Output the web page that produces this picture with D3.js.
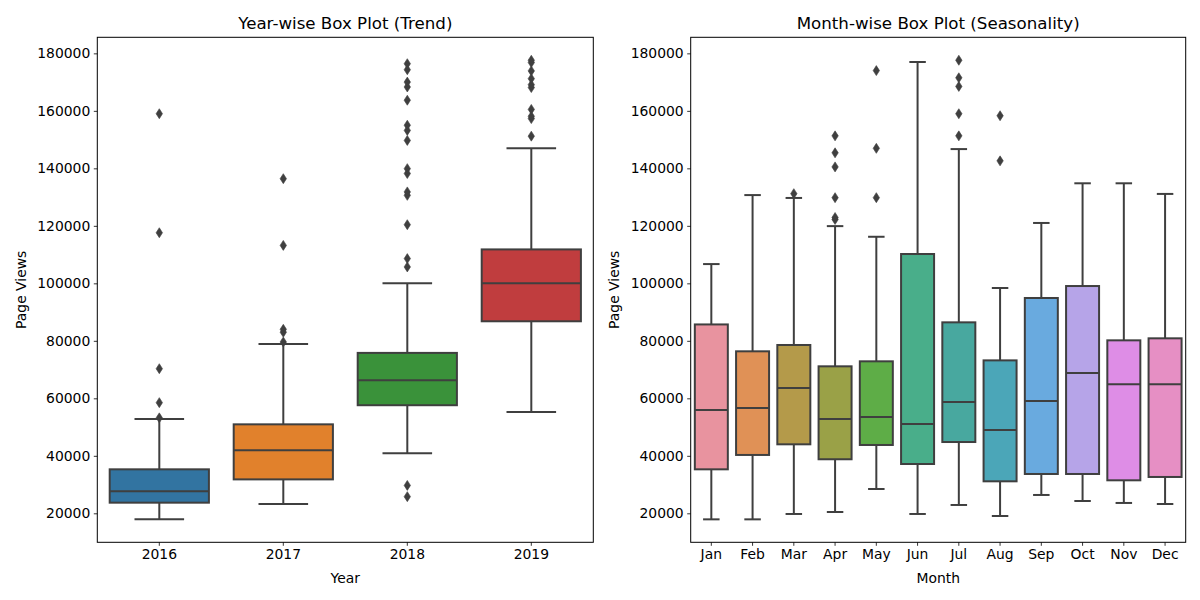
<!DOCTYPE html>
<html>
<head>
<meta charset="utf-8">
<script src="https://cdn.jsdelivr.net/npm/d3@7"></script>
<style>
  html, body { margin: 0; padding: 0; background: #fff; }
  svg { display: block; font-family: "DejaVu Sans", sans-serif; }
</style>
</head>
<body>
<svg id="chart" width="1200" height="600"></svg>
<script>
// ---------- Data ----------
const years = ["2016", "2017", "2018", "2019"];
const yearColors = ["#3274a1", "#e1812c", "#3a923a", "#c03d3e"];
const yearLow    = [17900, 23240, 40900, 55200];
const yearQ1     = [23700, 31800, 57600, 86800];
const yearMedian = [27650, 41900, 66260, 100000];
const yearQ3     = [35300, 50950, 75800, 111800];
const yearHigh   = [52800, 78900, 100000, 147000];
const yearOutliers = [
  [53200, 58500, 70300, 117600, 159000],
  [79600, 83000, 84000, 113200, 136400],
  [25800, 29700, 105700, 108600, 120400, 130600, 131800, 138200, 139900, 149700, 153200, 155000, 163700, 168300, 170000, 174300, 176400],
  [151200, 157300, 158100, 160500, 168100, 169100, 171200, 173900, 176800, 177600]
];

const months = ["Jan", "Feb", "Mar", "Apr", "May", "Jun", "Jul", "Aug", "Sep", "Oct", "Nov", "Dec"];
const monthColors = ["#e8939f", "#e09156", "#b49a4a", "#9aa147", "#5ead47", "#49ae8a",
                     "#48a89f", "#4ba6b8", "#69aadf", "#b6a4e8", "#de8de6", "#e68fc4"];
const monthLow    = [17900, 17900, 19770, 20460, 28460, 19770, 22900, 19070, 26380, 24290, 23600, 23240];
const monthQ1     = [35300, 40300, 44000, 38800, 43770, 37150, 44800, 31130, 33680, 33680, 31480, 32640];
const monthMedian = [55900, 56600, 63600, 52800, 53500, 51060, 58700, 49000, 59070, 68800, 64870, 64870];
const monthQ3     = [85700, 76350, 78550, 71130, 72870, 110200, 86430, 73200, 94900, 99060, 80170, 80870];
const monthHigh   = [106700, 130700, 129700, 119900, 116200, 177000, 146700, 98370, 121000, 134800, 134800, 131100];
const monthOutliers = [
  [], [], [131200],
  [122200, 122900, 129800, 140500, 145400, 151300],
  [129800, 146960, 174000],
  [],
  [151300, 159000, 168500, 171500, 177600],
  [142600, 158300],
  [], [], [], []
];

const yTicks = [20000, 40000, 60000, 80000, 100000, 120000, 140000, 160000, 180000];

// ---------- Drawing ----------
const svg = d3.select("#chart");
const lineColor = "#3f3f3f";

function drawPanel(opts) {
  const { x0, x1, y0, y1, cats, colors, low, q1, med, q3, high, outl, title, xLabel } = opts;
  const g = svg.append("g");

  const allVals = [].concat(low, high, ...outl);
  const vmin = d3.min(allVals), vmax = d3.max(allVals);
  const pad = (vmax - vmin) * 0.05;
  const y = d3.scaleLinear().domain([vmin - pad, vmax + pad]).range([y1, y0]);
  const x = d3.scaleBand().domain(cats).range([x0, x1]).paddingInner(0).paddingOuter(0);
  const bw = x.bandwidth() * 0.8;

  // Axes
  const yAxis = d3.axisLeft(y).tickValues(yTicks).tickFormat(d3.format("d")).tickSize(3.5).tickPadding(3.5);
  const gy = g.append("g").attr("transform", `translate(${x0},0)`).call(yAxis);
  const xAxis = d3.axisBottom(x).tickSize(3.5).tickPadding(3.5);
  const gx = g.append("g").attr("transform", `translate(0,${y1})`).call(xAxis);
  [gx, gy].forEach(a => {
    a.select(".domain").remove();
    a.selectAll("line").attr("stroke", "#000").attr("stroke-width", 0.8);
    a.selectAll("text").attr("font-size", "13.9px").attr("fill", "#000")
      .attr("font-family", "DejaVu Sans, sans-serif");
  });

  const data = cats.map((c, i) => ({ c, i }));

  // whiskers
  g.selectAll(".wl").data(data).join("line")
    .attr("x1", d => x(d.c) + x.bandwidth() / 2).attr("x2", d => x(d.c) + x.bandwidth() / 2)
    .attr("y1", d => y(low[d.i])).attr("y2", d => y(q1[d.i]))
    .attr("stroke", lineColor).attr("stroke-width", 2);
  g.selectAll(".wh").data(data).join("line")
    .attr("x1", d => x(d.c) + x.bandwidth() / 2).attr("x2", d => x(d.c) + x.bandwidth() / 2)
    .attr("y1", d => y(q3[d.i])).attr("y2", d => y(high[d.i]))
    .attr("stroke", lineColor).attr("stroke-width", 2);
  // caps
  [low, high].forEach(arr => {
    g.selectAll(null).data(data).join("line")
      .attr("x1", d => x(d.c) + x.bandwidth() / 2 - bw / 4)
      .attr("x2", d => x(d.c) + x.bandwidth() / 2 + bw / 4)
      .attr("y1", d => y(arr[d.i])).attr("y2", d => y(arr[d.i]))
      .attr("stroke", lineColor).attr("stroke-width", 2);
  });
  // boxes
  g.selectAll(".box").data(data).join("rect")
    .attr("x", d => x(d.c) + (x.bandwidth() - bw) / 2)
    .attr("width", bw)
    .attr("y", d => y(q3[d.i]))
    .attr("height", d => y(q1[d.i]) - y(q3[d.i]))
    .attr("fill", d => colors[d.i])
    .attr("stroke", lineColor).attr("stroke-width", 2);
  // medians
  g.selectAll(".med").data(data).join("line")
    .attr("x1", d => x(d.c) + (x.bandwidth() - bw) / 2)
    .attr("x2", d => x(d.c) + (x.bandwidth() + bw) / 2)
    .attr("y1", d => y(med[d.i])).attr("y2", d => y(med[d.i]))
    .attr("stroke", lineColor).attr("stroke-width", 2);
  // outliers (thin diamonds)
  const fl = [];
  data.forEach(d => outl[d.i].forEach(v => fl.push({ c: d.c, v })));
  g.selectAll(".fl").data(fl).join("path")
    .attr("d", "M0,-5L3.2,0L0,5L-3.2,0Z")
    .attr("transform", d => `translate(${x(d.c) + x.bandwidth() / 2},${y(d.v)})`)
    .attr("fill", lineColor).attr("stroke", lineColor).attr("stroke-width", 0.6);

  // frame
  g.append("rect").attr("x", x0).attr("y", y0).attr("width", x1 - x0).attr("height", y1 - y0)
    .attr("fill", "none").attr("stroke", "#000").attr("stroke-width", 1);

  // labels
  g.append("text").attr("x", (x0 + x1) / 2).attr("y", y0 - 8.5)
    .attr("text-anchor", "middle").attr("font-size", "16.67px").attr("fill", "#000").text(title);
  g.append("text").attr("x", (x0 + x1) / 2).attr("y", 582.5)
    .attr("text-anchor", "middle").attr("font-size", "13.9px").attr("fill", "#000").text(xLabel);
  g.append("text")
    .attr("transform", `translate(${opts.yLabelX},${(y0 + y1) / 2}) rotate(-90)`)
    .attr("text-anchor", "middle").attr("font-size", "13.9px").attr("fill", "#000").text("Page Views");
}

drawPanel({
  x0: 97.3, x1: 593.3, y0: 37.3, y1: 542.3,
  cats: years, colors: yearColors, low: yearLow, q1: yearQ1, med: yearMedian, q3: yearQ3,
  high: yearHigh, outl: yearOutliers,
  title: "Year-wise Box Plot (Trend)", xLabel: "Year", yLabelX: 25.5
});
drawPanel({
  x0: 690.7, x1: 1185.7, y0: 37.3, y1: 542.3,
  cats: months, colors: monthColors, low: monthLow, q1: monthQ1, med: monthMedian, q3: monthQ3,
  high: monthHigh, outl: monthOutliers,
  title: "Month-wise Box Plot (Seasonality)", xLabel: "Month", yLabelX: 619
});
</script>
</body>
</html>
